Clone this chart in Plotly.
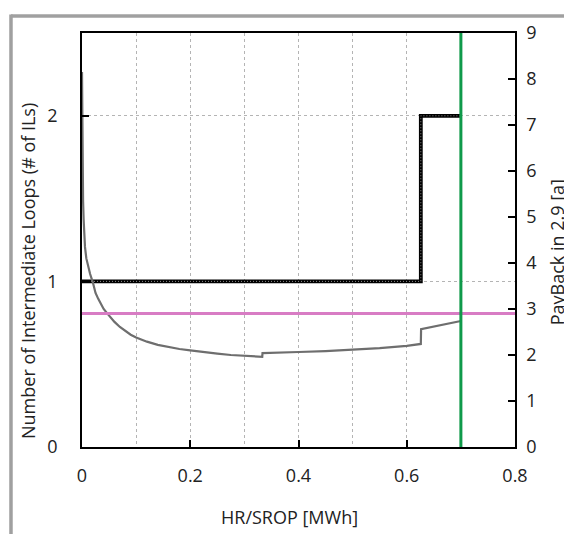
import plotly.graph_objects as go

# ---- data ----
hr_srop = [0, 0.0005, 0.001, 0.002, 0.003, 0.004, 0.0055, 0.008, 0.011, 0.015, 0.02,
           0.025, 0.03, 0.035, 0.04, 0.047, 0.055, 0.06, 0.07, 0.08, 0.09, 0.10,
           0.12, 0.14, 0.16, 0.18, 0.20, 0.225, 0.25, 0.275, 0.30, 0.333,
           0.3335, 0.35, 0.40, 0.45, 0.50, 0.55, 0.60, 0.626, 0.6265, 0.65, 0.70]
payback = [8.15, 7.0, 6.2, 5.35, 4.95, 4.7, 4.35, 4.1, 3.95, 3.76, 3.58,
           3.35, 3.22, 3.1, 3.0, 2.9, 2.79, 2.72, 2.61, 2.52, 2.44, 2.38,
           2.29, 2.22, 2.17, 2.13, 2.10, 2.06, 2.03, 2.00, 1.98, 1.96,
           2.04, 2.05, 2.065, 2.085, 2.11, 2.15, 2.20, 2.24, 2.56, 2.62, 2.74]
il_x = [0, 0.626, 0.626, 0.70]
il_count = [1, 1, 2, 2]
payback_limit = 2.9
hr_max = 0.70
x_range = [0, 0.8]
il_range = [0, 2.5]
pb_range = [0, 9]

FONT = "Open Sans"
fig = go.Figure()

# number of intermediate loops (thick black with dotted core)
fig.add_trace(go.Scatter(x=il_x, y=il_count, mode="lines",
                         line=dict(color="black", width=3.8), yaxis="y"))
fig.add_trace(go.Scatter(x=il_x, y=il_count, mode="lines",
                         line=dict(color="#8a8a8a", width=1, dash="1px,2px"), yaxis="y"))
# payback curve
fig.add_trace(go.Scatter(x=hr_srop, y=payback, mode="lines",
                         line=dict(color="#6e6e6e", width=2.2), yaxis="y2"))
# payback limit
fig.add_trace(go.Scatter(x=x_range, y=[payback_limit, payback_limit], mode="lines",
                         line=dict(color="#d87cc4", width=3), yaxis="y2"))
# HR limit
fig.add_trace(go.Scatter(x=[hr_max, hr_max], y=pb_range, mode="lines",
                         line=dict(color="#0f9a4a", width=3), yaxis="y2"))

tickfont = dict(family=FONT, size=18, color="#222")
fig.update_layout(
    width=564, height=526,
    margin=dict(l=74, r=57, t=22, b=87),
    paper_bgcolor="white", plot_bgcolor="white",
    showlegend=False,
    font=dict(family=FONT, size=18, color="#222"),
    xaxis=dict(range=x_range, dtick=0.2, tick0=0, showgrid=True,
               gridcolor="#b4b4b4", griddash="3px,3px", gridwidth=1,
               minor=dict(dtick=0.1, tick0=0, showgrid=True, gridcolor="#b4b4b4",
                          griddash="3px,3px", gridwidth=1, ticks=""),
               ticks="inside", ticklen=7, tickwidth=1.5, tickcolor="black",
               showline=True, linecolor="black", linewidth=1.5, mirror=True,
               zeroline=False, tickfont=tickfont, ticklabelstandoff=12,
               tickformat="~g"),
    yaxis=dict(range=il_range, dtick=1, tick0=0, showgrid=True,
               gridcolor="#b4b4b4", griddash="3px,3px", gridwidth=1,
               ticks="inside", ticklen=7, tickwidth=1.5, tickcolor="black",
               showline=True, linecolor="black", linewidth=1.5,
               zeroline=False, tickfont=tickfont, ticklabelstandoff=19),
    yaxis2=dict(range=pb_range, dtick=1, tick0=0, overlaying="y", side="right",
                showgrid=False, ticks="inside", ticklen=7, tickwidth=1.5,
                tickcolor="black", showline=True, linecolor="black", linewidth=1.5,
                zeroline=False, tickfont=tickfont, ticklabelstandoff=6),
    annotations=[
        dict(text="Number of Intermediate Loops (# of ILs)", xref="paper", yref="paper",
             x=-0.123, y=0.4245, textangle=-90, showarrow=False,
             xanchor="center", yanchor="middle", font=dict(family=FONT, size=18, color="#222")),
        dict(text="PayBack in 2.9 [a]", xref="paper", yref="paper",
             x=1.099, y=0.470, textangle=-90, showarrow=False,
             xanchor="center", yanchor="middle", font=dict(family=FONT, size=18, color="#222")),
        dict(text="HR/SROP [MWh]", xref="paper", yref="paper",
             x=0.480, y=-0.170, showarrow=False,
             xanchor="center", yanchor="middle", font=dict(family=FONT, size=18, color="#222")),
    ],
    shapes=[
        dict(type="line", xref="paper", yref="paper", x0=-0.164, x1=1.2,
             y0=1.0408, y1=1.0408, line=dict(color="#a0a0a0", width=3.5)),
        dict(type="line", xref="paper", yref="paper", x0=-0.164, x1=-0.164,
             y0=1.0448, y1=-0.25, line=dict(color="#a0a0a0", width=3.5)),
    ],
)

fig.write_html("out.html")
